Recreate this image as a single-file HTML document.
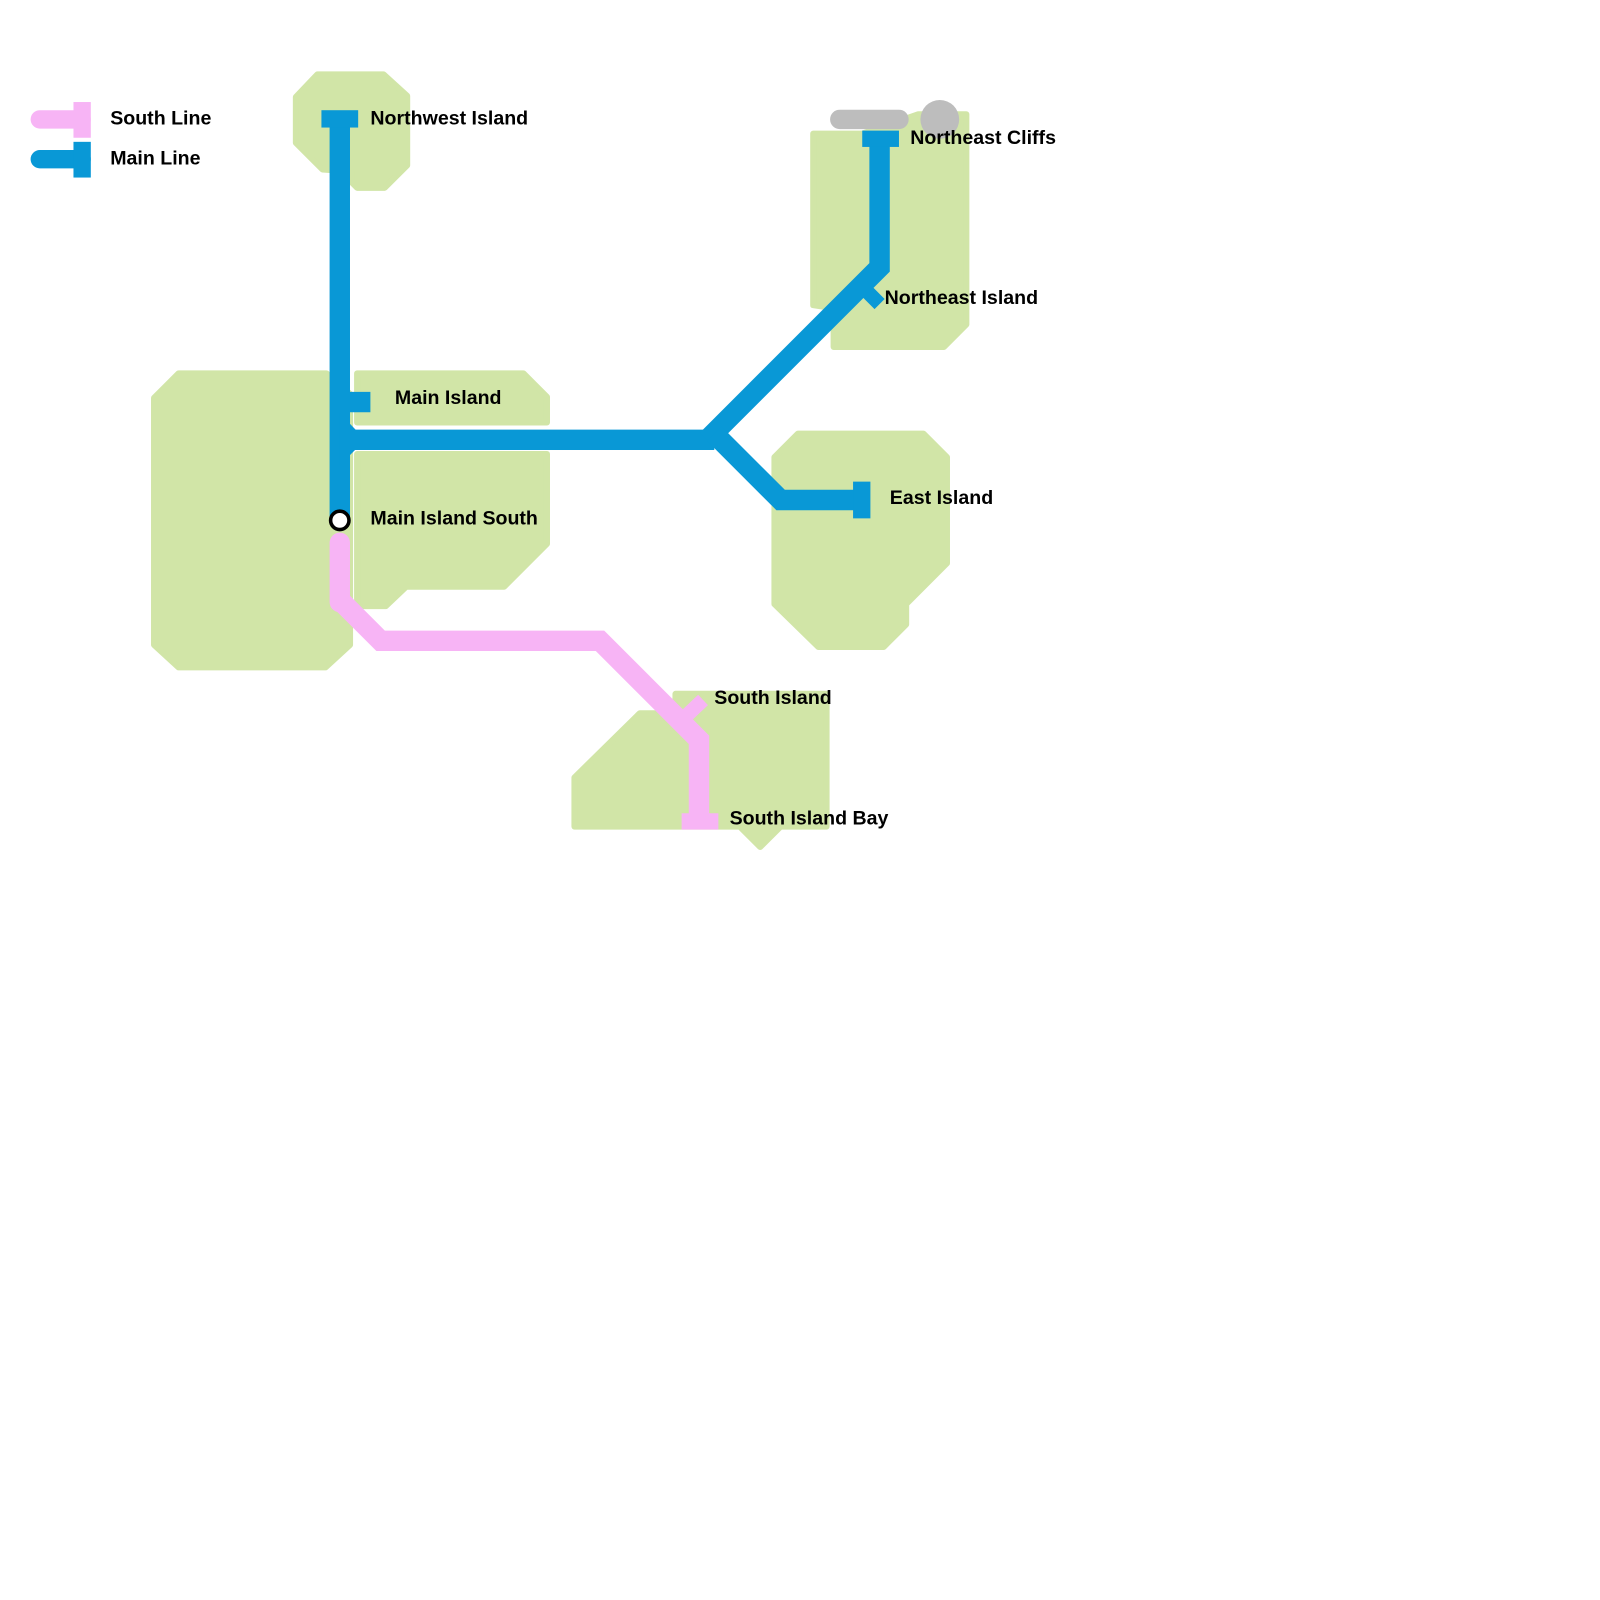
<!DOCTYPE html>
<html><head><style>body{margin:0;background:#fff}svg{display:block}</style></head><body>
<svg width="1600" height="1600" viewBox="0 0 1600 1600" xmlns="http://www.w3.org/2000/svg" font-family="Liberation Sans, sans-serif" font-weight="bold" font-size="19.2">
<g transform="scale(1.0204)">
<g fill="#d1e5a7" stroke="#d1e5a7" stroke-width="6" stroke-linejoin="round">
<polygon points="290,95 311,73 376,73 399,94 399,162 377,184 350,184 344,178 344,168 316,166 290,140"/>
<polygon points="151,390 175,366 320,366 343,386 343,632 319,654 175,654 151,632"/>
<polygon points="350,366 513,366 536,389 536,414 350,414"/>
<polygon points="350,445 536,445 536,533 494,575 398,575 378,594 350,594"/>
<polygon points="797,131 815,131 845,131 900,112 947,112 947,318 925,340 817,340 817,302 797,299"/>
<polygon points="759,448 782,425 905,425 928,448 928,552 888,592 888,612 866,634 802,634 759,592"/>
<polygon points="563,762 627,699 662,699 662,680 810,680 810,810 765,810 745,830 725,810 563,810"/>
</g>
<line x1="823" y1="117" x2="881" y2="117" stroke="#bdbdbd" stroke-width="19" stroke-linecap="round"/>
<circle cx="921" cy="117" r="19" fill="#bdbdbd"/>
<g fill="none" stroke="#0998d6" stroke-width="20">
<polyline points="333,116 333,510"/>
<polyline points="333,431 700,431"/>
<polyline points="693,431 862,262 862,135"/>
<polyline points="700,425 765,490 845,490"/>
<line x1="343" y1="394" x2="363" y2="394"/>
<line x1="845" y1="281" x2="862" y2="298" stroke-width="14"/>
</g>
<polygon points="333,405 358,431 333,456" fill="#0998d6"/>
<rect x="315" y="108" width="36" height="17" fill="#0998d6"/>
<rect x="845" y="128" width="36" height="16" fill="#0998d6"/>
<rect x="836" y="472" width="17" height="36" fill="#0998d6"/>
<g fill="none" stroke="#f7b4f5" stroke-width="20" stroke-linejoin="miter">
<polyline points="333,588 373,628 588,628 685,725 685,805"/>
<line x1="333" y1="532" x2="333" y2="590" stroke-linecap="round"/>
<line x1="671" y1="703" x2="689" y2="686" stroke-width="14"/>
</g>
<rect x="668" y="797" width="36" height="16" fill="#f7b4f5"/>
<circle cx="333" cy="510" r="9" fill="#fff" stroke="#000" stroke-width="3.5"/>
<line x1="39" y1="117" x2="80" y2="117" stroke="#f7b4f5" stroke-width="18" stroke-linecap="round"/>
<rect x="72" y="100" width="17" height="35" fill="#f7b4f5"/>
<line x1="39" y1="156" x2="80" y2="156" stroke="#0998d6" stroke-width="18" stroke-linecap="round"/>
<rect x="72" y="139" width="17" height="35" fill="#0998d6"/>
<g fill="#000">
<text x="108" y="122">South Line</text>
<text x="108" y="161">Main Line</text>
<text x="363" y="122">Northwest Island</text>
<text x="892" y="141">Northeast Cliffs</text>
<text x="867" y="298">Northeast Island</text>
<text x="387" y="396">Main Island</text>
<text x="363" y="514">Main Island South</text>
<text x="872" y="494">East Island</text>
<text x="700" y="690">South Island</text>
<text x="715" y="808">South Island Bay</text>
</g>
</g>
</svg>
</body></html>
